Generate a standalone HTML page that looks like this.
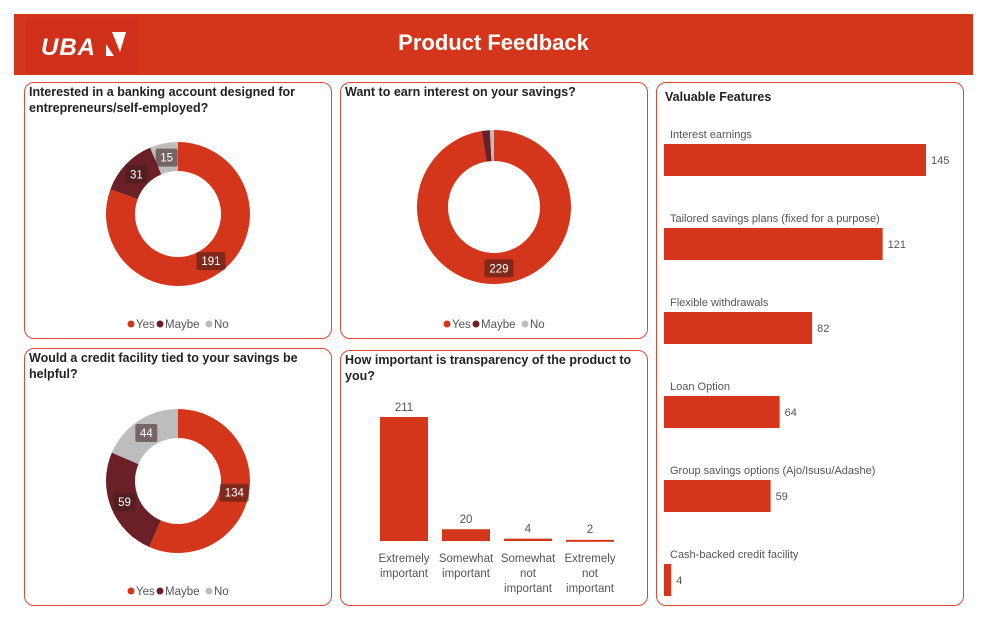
<!DOCTYPE html>
<html><head><meta charset="utf-8">
<style>
body{margin:0;width:987px;height:625px;background:#fff;font-family:"Liberation Sans",sans-serif;overflow:hidden;position:relative}
.panel{position:absolute;border:1px solid #dc4a33;border-radius:10px;box-sizing:border-box;background:#fff}
.title{position:absolute;left:4px;top:1px;font-size:12.5px;font-weight:bold;color:#222;line-height:16px}
svg text{font-family:"Liberation Sans",sans-serif}
</style></head><body>
<div style="position:absolute;left:14px;top:14px;width:959px;height:61px;background:#d4361b"></div>
<div style="position:absolute;left:26px;top:17px;width:113px;height:56px;background:#d0301a">
  <span style="position:absolute;left:15px;top:17px;color:#fff;font-weight:bold;font-style:italic;font-size:24px;letter-spacing:1px">UBA</span>
  <svg style="position:absolute;left:76px;top:13px" width="26" height="30"><polygon points="4,14 12,26 4,26" fill="#fff"/><polygon points="10,2 24,2 18,22" fill="#fff"/></svg>
</div>
<div style="position:absolute;left:14px;top:30px;width:959px;text-align:center;color:#fff;font-weight:bold;font-size:22px">Product Feedback</div>

<div class="panel" style="left:24px;top:82px;width:308px;height:257px"><div class="title">Interested in a banking account designed for entrepreneurs/self-employed?</div></div>
<div class="panel" style="left:340px;top:82px;width:308px;height:257px"><div class="title">Want to earn interest on your savings?</div></div>
<div class="panel" style="left:24px;top:348px;width:308px;height:258px"><div class="title">Would a credit facility tied to your savings be helpful?</div></div>
<div class="panel" style="left:340px;top:350px;width:308px;height:256px"><div class="title">How important is transparency of the product to you?</div></div>
<div class="panel" style="left:656px;top:82px;width:308px;height:524px"><div class="title" style="left:8px;top:6px">Valuable Features</div></div>

<svg id="chart" width="987" height="625" style="position:absolute;left:0;top:0"></svg>
<script>
const donutCats=["Yes","Maybe","No"];
const donut1Values=[191,31,15];
const donut2Values=[229,4,2];
const donut3Values=[134,59,44];
const transCats=["Extremely important","Somewhat important","Somewhat not important","Extremely not important"];
const transValues=[211,20,4,2];
const featCats=["Interest earnings","Tailored savings plans (fixed for a purpose)","Flexible withdrawals","Loan Option","Group savings options (Ajo/Isusu/Adashe)","Cash-backed credit facility"];
const featValues=[145,121,82,64,59,4];

const colors=["#d4361b","#6b2027","#bdbdbd"];
const svg=document.getElementById('chart');
const NS="http://www.w3.org/2000/svg";
function mk(tag,attrs,parent){const e=document.createElementNS(NS,tag);for(const k in attrs)e.setAttribute(k,attrs[k]);(parent||svg).appendChild(e);return e;}

function donut(name,cx,cy,R,r,vals,showLabels,legY){
  const g=mk('g',{});
  
  
  const tot=vals.reduce((a,b)=>a+b,0);
  let a0=0;
  vals.forEach((v,i)=>{
    const a1=a0+v/tot*2*Math.PI;
    const p=(a,rr)=>[cx+rr*Math.sin(a),cy-rr*Math.cos(a)];
    const large=(a1-a0)>Math.PI?1:0;
    const [x0,y0]=p(a0,R),[x1,y1]=p(a1,R),[x2,y2]=p(a1,r),[x3,y3]=p(a0,r);
    const path=mk('path',{d:`M${x0},${y0}A${R},${R} 0 ${large} 1 ${x1},${y1}L${x2},${y2}A${r},${r} 0 ${large} 0 ${x3},${y3}Z`,fill:colors[i]},g);
    
    
    if(showLabels[i]){
      const am=(a0+a1)/2,[lx,ly]=p(am,(R+r)/2);
      const w=String(v).length*7+8;
      mk('rect',{x:lx-w/2,y:ly-9,width:w,height:18,rx:2,fill:'rgba(60,30,30,0.55)'},g);
      const t=mk('text',{x:lx,y:ly+4,'text-anchor':'middle','font-size':11.5,fill:'#fff'},g);
      t.textContent=v;
      
      
    }
    a0=a1;
  });
  const widths=[29,49,25];let x=cx-51;
  donutCats.forEach((c,i)=>{
    const lg=mk('g',{},g);
    
    
    mk('circle',{cx:x+4,cy:legY-4,r:3.5,fill:colors[i]},lg);
    const t=mk('text',{x:x+9,y:legY,'font-size':11.5,fill:'#555'},lg);t.textContent=c;
    x+=widths[i];
  });
}
donut('donut-entrepreneur',178,214,72,43,donut1Values,[1,1,1],328);
donut('donut-earn-interest',494,207,77,46,donut2Values,[1,0,0],328);
donut('donut-credit-facility',178,481,72,43,donut3Values,[1,1,1],595);

const base=541,maxH=124,xs0=380,step=62,bw=48;
const yT=v=>base-v/transValues[0]*maxH;
transValues.forEach((v,i)=>{
  const x=xs0+i*step;
  const y=yT(v);
  const b=mk('rect',{x:x,y:y,width:bw,height:Math.max(base-y,2),fill:colors[0]});
  
  
  const t=mk('text',{x:x+bw/2,y:Math.min(y,base-2)-6,'text-anchor':'middle','font-size':11.5,fill:'#555'});
  t.textContent=v;
  
  
  const words=transCats[i].split(' ');
  words.forEach((w,j)=>{
    const tl=mk('text',{x:x+bw/2,y:562+j*15,'text-anchor':'middle','font-size':11.5,fill:'#555'});
    tl.textContent=w;
    
    
  });
});

const fx=664,fMaxW=262,fy0=144,fstep=84,fh=32;
const wF=v=>v/featValues[0]*fMaxW;
featValues.forEach((v,i)=>{
  const y=fy0+i*fstep;
  const c=mk('text',{x:670,y:y-12,'font-size':11,fill:'#555'});
  c.setAttribute('y',y-12+6);
  c.textContent=featCats[i];
  
  
  const w=Math.max(wF(v),6);
  const b=mk('rect',{x:fx,y:y,width:w,height:fh,fill:colors[0]});
  
  
  const t=mk('text',{x:fx+w+5,y:y+20,'font-size':11,fill:'#555'});
  t.textContent=v;
  
  
});
</script>
</body></html>
